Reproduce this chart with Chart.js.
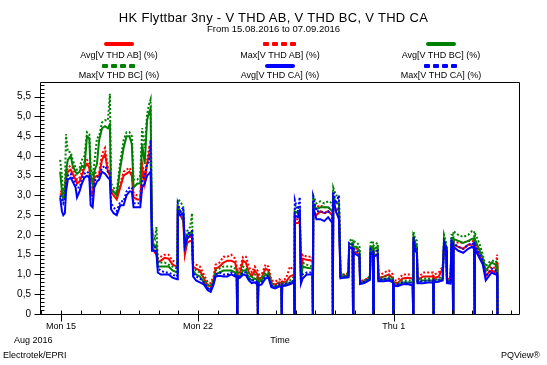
<!DOCTYPE html>
<html>
<head>
<meta charset="utf-8">
<script src="https://cdn.jsdelivr.net/npm/chart.js@4/dist/chart.umd.min.js"></script>
<style>
  html, body { margin:0; padding:0; background:#fff; }
  #wrap { position:relative; width:547px; height:365px; overflow:hidden; font-family:"Liberation Sans", Arial, sans-serif; color:#000; }
  #c { position:absolute; left:0; top:0; }
  .t { position:absolute; white-space:nowrap; line-height:1; }
  .ctr { text-align:center; }
  .solid { position:absolute; height:4px; border-radius:2px; }
  .dash { position:absolute; height:4px; }
  .dash span { display:inline-block; width:6px; height:4px; margin-right:3px; vertical-align:top; border-radius:1px; }
</style>
</head>
<body>
<div id="wrap">
  <canvas id="c" width="547" height="365"></canvas>
  <div class="t ctr" style="left:0;width:547px;top:11px;font-size:13px;letter-spacing:0.3px;">HK Flyttbar 3ny - V THD AB, V THD BC, V THD CA</div>
  <div class="t ctr" style="left:0;width:547px;top:24px;font-size:9.5px;">From 15.08.2016 to 07.09.2016</div>
  <div id="legend"></div>
  <div class="t" style="left:14px;top:336px;font-size:9px;">Aug 2016</div>
  <div class="t ctr" style="left:230px;width:100px;top:336px;font-size:9px;">Time</div>
  <div class="t" style="left:3px;top:351px;font-size:9px;">Electrotek/EPRI</div>
  <div class="t" style="right:7px;top:351px;font-size:9px;">PQView®</div>
</div>
<script>
// Time in days since Mon 15.08.2016 00:00
const times = [
  -0.04,0.05,0.12,0.2,0.26, 0.35,0.5,0.6,0.75,0.82,
  0.95,1.07,1.2,1.33,1.45, 1.52,1.62,1.7,1.84,1.95,
  2.1,2.25,2.4,2.5,2.56, 2.69,2.85,3.03,3.2,3.35,
  3.5,3.62,3.71,3.9,4.05, 4.15,4.28,4.4,4.5,4.58,
  4.65,4.7,4.8,4.88,4.95, 5.1,5.3,5.5,5.7,5.93,
  5.97,6.1,6.25,6.33,6.45, 6.6,6.7,6.75,6.9,7.1,
  7.3,7.5,7.65,7.8,7.9, 8.1,8.3,8.5,8.7,8.9,
  8.98,9.0,9.02,9.15,9.3, 9.45,9.6,9.75,9.9,10.04,
  10.06,10.08,10.25,10.45,10.6, 10.75,10.95,11.15,11.26,11.28,
  11.3,11.5,11.7,11.91,11.93, 11.95,12.1,12.2,12.26,12.35,
  12.55,12.85,12.87,12.89,13.05, 13.25,13.45,13.65,13.87,13.89,
  13.91,14.05,14.2,14.28,14.5, 14.69,14.72,14.9,14.92,14.94,
  15.1,15.25,15.28,15.5,15.78, 15.82,15.94,15.96,15.98,16.18,
  16.22,16.5,16.75,16.96,16.98, 17.0,17.2,17.45,17.7,17.97,
  17.99,18.01,18.1,18.18,18.22, 18.5,18.8,19.01,19.03,19.05,
  19.3,19.5,19.57,19.68,19.72, 19.9,19.95,20.01,20.03,20.05,
  20.3,20.55,20.8,21.0,21.11, 21.13,21.15,21.4,21.55,21.7,
  21.85,22.0,22.2,22.28,22.3
];
const avgAB = [
  3.05,3.0,3.05,3.1,3.4, 3.6,3.65,3.55,3.4,3.3,
  3.35,3.5,3.7,3.8,3.7, 3.1,3.0,3.45,3.5,3.5,
  3.9,4.05,3.6,3.5,3.1, 3.0,2.9,3.2,3.5,3.55,
  3.6,3.5,2.95,2.9,2.9, 3.7,3.3,3.8,4.05,4.0,
  2.2,1.65,1.55,1.5,1.3, 1.35,1.42,1.4,1.25,1.2,
  2.5,2.5,2.35,1.5,1.8, 1.85,1.85,1.2,1.15,1.1,
  0.9,0.72,0.7,0.85,1.15, 1.2,1.3,1.35,1.35,1.3,
  1.1,0,1.05,1.05,1.35, 1.3,1.05,0.95,1.1,1.0,
  0,0.9,0.92,1.15,1.1, 0.78,0.75,0.8,0.78,0,
  0.8,0.82,0.95,1.0,0, 2.3,2.3,2.35,0.85,1.4,
  1.37,1.35,0,2.6,2.5, 2.6,2.55,2.6,2.5,0,
  2.9,2.6,2.7,0.95,0.95, 0.98,1.65,1.7,0,1.6,
  1.55,1.5,0.8,0.8,0.9, 1.6,1.55,0,1.5,1.5,
  0.9,0.95,1.0,0.9,0, 0.8,0.78,0.9,0.92,0.9,
  0,1.8,1.65,1.6,0.85, 0.95,0.95,0.95,0,0.9,
  0.95,1.15,1.7,1.6,0.85, 0.82,1.7,1.7,0,1.75,
  1.7,1.65,1.75,1.75,1.8, 0,1.75,1.45,1.3,0.95,
  1.05,1.1,1.05,1.3,0
];
const maxAB = [
  3.1,3.1,3.15,3.2,3.5, 3.7,3.75,3.7,3.5,3.4,
  3.45,3.6,3.85,3.9,3.8, 3.3,3.2,3.55,3.6,3.6,
  4.05,4.2,3.7,3.6,3.2, 3.1,3.0,3.3,3.6,3.65,
  3.7,3.6,3.05,3.0,3.0, 3.8,3.5,3.9,4.2,4.15,
  2.3,1.8,1.7,1.65,1.4, 1.45,1.5,1.5,1.35,1.3,
  2.7,2.6,2.5,1.6,1.9, 1.95,1.95,1.3,1.25,1.2,
  1.0,0.8,0.78,0.95,1.25, 1.3,1.45,1.45,1.5,1.4,
  1.2,0,1.15,1.15,1.45, 1.45,1.2,1.05,1.2,1.1,
  0,1.0,1.0,1.25,1.2, 0.85,0.82,0.88,0.85,0,
  0.85,0.9,1.2,1.1,0, 2.4,2.4,2.45,0.9,1.5,
  1.45,1.45,0,2.7,2.7, 2.75,2.7,2.7,2.6,0,
  3.0,2.8,2.8,1.0,1.0, 1.05,1.75,1.75,0,1.7,
  1.65,1.6,0.85,0.85,0.95, 1.7,1.65,0,1.6,1.6,
  0.95,1.05,1.1,1.0,0, 0.85,0.85,1.0,1.0,1.0,
  0,1.9,1.75,1.7,0.9, 1.05,1.05,1.05,0,1.0,
  1.05,1.2,1.8,1.7,0.9, 0.88,1.8,1.8,0,1.85,
  1.8,1.8,1.85,1.85,1.85, 0,1.85,1.55,1.4,1.05,
  1.15,1.2,1.15,1.5,0
];
const avgBC = [
  3.6,3.1,2.9,3.0,3.6, 3.9,4.0,3.75,3.6,3.55,
  3.6,3.75,3.7,4.5,4.45, 3.5,3.3,3.6,3.8,4.4,
  4.7,4.75,4.7,4.8,3.1, 3.1,3.0,3.7,4.2,4.5,
  4.5,4.3,3.2,3.3,3.3, 4.3,3.8,4.9,5.1,5.2,
  1.9,1.8,1.7,1.75,1.2, 1.2,1.2,1.2,1.1,1.05,
  2.7,2.6,2.5,1.6,2.0, 2.05,2.1,1.1,1.0,0.95,
  0.8,0.65,0.62,0.8,1.0, 1.05,1.1,1.1,1.1,1.05,
  1.0,0,0.95,0.95,1.1, 1.1,0.9,0.85,0.9,0.85,
  0,0.8,0.85,1.0,1.0, 0.72,0.68,0.72,0.7,0,
  0.72,0.75,0.78,0.85,0, 2.6,2.55,2.55,0.85,1.2,
  1.17,1.15,0,2.8,2.65, 2.7,2.7,2.7,2.6,0,
  3.0,2.8,2.8,0.95,0.95, 0.97,1.75,1.8,0,1.7,
  1.7,1.6,0.78,0.8,0.9, 1.7,1.7,0,1.65,1.7,
  0.85,0.88,0.9,0.85,0, 0.75,0.72,0.8,0.8,0.8,
  0,1.95,1.8,1.7,0.8, 0.85,0.85,0.85,0,0.8,
  0.82,0.9,1.9,1.7,0.8, 0.8,1.85,1.85,0,1.9,
  1.85,1.8,1.85,1.9,1.92, 0,1.9,1.6,1.4,1.1,
  1.2,1.3,1.25,1.2,0
];
const maxBC = [
  3.9,3.5,3.1,3.2,4.55, 4.1,4.1,3.9,3.7,3.65,
  3.7,3.9,4.0,4.6,4.55, 3.7,3.5,3.8,4.45,4.5,
  4.85,4.9,4.9,5.57,3.3, 3.2,3.1,3.85,4.4,4.6,
  4.6,4.5,3.4,3.4,3.5, 4.7,4.2,5.05,5.3,5.43,
  2.2,2.0,1.9,2.2,1.3, 1.3,1.3,1.25,1.2,1.15,
  2.9,2.85,2.7,1.7,2.1, 2.2,2.55,1.2,1.1,1.05,
  0.9,0.75,0.7,0.9,1.1, 1.15,1.2,1.2,1.2,1.15,
  1.1,0,1.05,1.0,1.2, 1.15,1.0,0.9,1.0,0.95,
  0,0.85,0.9,1.05,1.05, 0.78,0.72,0.78,0.75,0,
  0.78,0.8,0.85,0.95,0, 2.75,2.7,2.65,0.9,1.3,
  1.25,1.2,0,3.0,2.8, 2.85,2.8,2.85,2.8,0,
  3.2,3.0,3.0,1.0,1.0, 1.02,1.85,1.9,0,1.85,
  1.8,1.75,0.82,0.85,0.95, 1.8,1.85,0,1.75,1.8,
  0.9,0.95,0.95,0.9,0, 0.8,0.78,0.85,0.85,0.85,
  0,2.08,1.9,1.85,0.85, 0.9,0.9,0.9,0,0.85,
  0.9,0.95,2.0,1.8,0.85, 0.85,2.0,2.0,0,2.1,
  2.0,1.95,2.0,2.1,2.1, 0,2.05,1.75,1.5,1.2,
  1.3,1.35,1.35,1.3,0
];
const avgCA = [
  2.95,2.6,2.5,2.55,3.1, 3.4,3.45,3.35,3.2,2.95,
  3.1,3.3,3.45,3.5,3.45, 2.75,2.7,3.2,3.35,3.4,
  3.6,3.55,3.45,3.4,2.65, 2.55,2.5,2.75,2.75,3.0,
  3.1,3.1,2.7,2.7,2.7, 3.2,3.3,3.5,3.55,3.6,
  1.6,1.6,1.6,1.55,1.05, 1.0,1.0,1.0,0.92,0.88,
  2.6,2.5,2.55,1.7,1.9, 2.0,2.0,0.95,0.85,0.8,
  0.75,0.6,0.56,0.75,0.95, 0.97,0.95,0.95,1.0,0.95,
  0.95,0,0.9,0.92,1.0, 0.98,0.85,0.78,0.8,0.75,
  0,0.72,0.75,0.9,0.92, 0.68,0.65,0.7,0.68,0,
  0.7,0.72,0.75,0.8,0, 2.5,2.45,2.6,0.77,0.9,
  1.0,1.0,0,2.7,2.4, 2.4,2.35,2.45,2.3,0,
  2.9,2.6,2.4,0.9,0.92, 0.93,1.7,1.65,0,1.55,
  1.5,1.45,0.76,0.78,0.86, 1.55,1.5,0,1.45,1.5,
  0.83,0.83,0.85,0.8,0, 0.72,0.7,0.75,0.76,0.72,
  0,1.85,1.6,1.55,0.78, 0.78,0.8,0.8,0,0.8,
  0.82,0.85,1.8,1.6,0.78, 0.77,1.8,1.75,0,1.7,
  1.6,1.55,1.65,1.7,1.65, 0,1.65,1.4,1.25,0.85,
  0.95,1.05,1.0,1.0,0
];
const maxCA = [
  3.0,2.9,2.8,2.9,3.3, 3.5,3.55,3.45,3.3,3.2,
  3.2,3.4,3.55,3.6,3.55, 3.0,2.9,3.35,3.45,3.5,
  3.7,3.75,3.6,3.6,2.8, 2.7,2.6,2.85,2.85,3.1,
  3.2,3.2,2.8,2.8,2.8, 3.4,3.5,3.8,3.85,4.4,
  1.8,1.7,1.7,1.65,1.15, 1.1,1.05,1.05,1.0,0.95,
  2.8,2.6,2.7,1.8,2.0, 2.1,2.1,1.05,0.95,0.9,
  0.8,0.65,0.62,0.8,1.0, 1.05,1.0,1.0,1.05,1.0,
  1.0,0,0.95,0.97,1.05, 1.05,0.9,0.85,0.85,0.8,
  0,0.78,0.8,0.95,0.97, 0.72,0.7,0.75,0.72,0,
  0.75,0.77,0.8,0.85,0, 2.88,2.6,2.96,0.85,1.0,
  1.05,1.05,0,2.95,2.6, 2.6,2.55,2.6,2.5,0,
  3.1,2.8,3.0,0.95,0.95, 0.97,1.8,1.75,0,1.65,
  1.6,1.55,0.8,0.82,0.9, 1.65,1.6,0,1.55,1.6,
  0.87,0.88,0.9,0.85,0, 0.75,0.75,0.8,0.8,0.78,
  0,1.95,1.7,1.65,0.82, 0.83,0.85,0.85,0,0.85,
  0.87,0.9,1.85,1.7,0.82, 0.8,1.85,1.8,0,1.8,
  1.7,1.65,1.75,1.8,1.75, 0,1.75,1.5,1.35,0.95,
  1.05,1.15,1.1,1.1,0
];
const seriesNames = ["Avg[V THD AB] (%)","Max[V THD AB] (%)","Avg[V THD BC] (%)","Max[V THD BC] (%)","Avg[V THD CA] (%)","Max[V THD CA] (%)"];
const xTickDays = [0, 7, 17];
const xTickLabels = ["Mon 15", "Mon 22", "Thu 1"];
const yTickValues = [0,0.5,1,1.5,2,2.5,3,3.5,4,4.5,5,5.5];
const X_MIN = -1.07, X_MAX = 23.45, Y_MAX = 5.87;

const RED = '#ff0000', GREEN = '#008000', BLUE = '#0000ff';
const seriesData = [avgAB, maxAB, avgBC, maxBC, avgCA, maxCA];
const seriesColor = [RED, RED, GREEN, GREEN, BLUE, BLUE];
const seriesDashed = [false, true, false, true, false, true];
const seriesOrder = [5, 4, 3, 2, 1, 0];

const datasets = seriesData.map((arr, k) => ({
  label: seriesNames[k],
  data: times.map((t, i) => ({ x: t, y: arr[i] })),
  borderColor: seriesColor[k],
  backgroundColor: seriesColor[k],
  borderWidth: 2,
  borderDash: seriesDashed[k] ? [2, 2] : [],
  pointRadius: 0,
  tension: 0,
  fill: false,
  order: seriesOrder[k]
}));

// legend (HTML)
const legend = document.getElementById('legend');
const colCenters = [119, 280, 441];
seriesNames.forEach((name, k) => {
  const col = k % 3, row = Math.floor(k / 3);
  const cx = colCenters[col];
  const sy = row === 0 ? 42 : 64;
  const ly = row === 0 ? 51 : 71;
  let s;
  if (seriesDashed[k]) {
    s = document.createElement('div'); s.className = 'dash';
    s.style.left = (cx - 17) + 'px'; s.style.top = sy + 'px';
    for (let j = 0; j < 4; j++) { const sp = document.createElement('span'); sp.style.background = seriesColor[k]; if (j===3) sp.style.marginRight='0'; s.appendChild(sp); }
  } else {
    s = document.createElement('div'); s.className = 'solid';
    s.style.left = (cx - 15) + 'px'; s.style.top = sy + 'px'; s.style.width = '30px';
    s.style.background = seriesColor[k];
  }
  legend.appendChild(s);
  const l = document.createElement('div'); l.className = 't ctr';
  l.style.left = (cx - 80) + 'px'; l.style.width = '160px'; l.style.top = ly + 'px'; l.style.fontSize = '9px';
  l.textContent = name;
  legend.appendChild(l);
});

const axisPlugin = {
  id: 'axisBox',
  afterDatasetsDraw(chart) {
    const { ctx, chartArea: { left, right, top, bottom }, scales: { x, y } } = chart;
    ctx.save();
    ctx.strokeStyle = '#000'; ctx.lineWidth = 1;
    const L = Math.round(left) + 0.5, R = Math.round(right) - 0.5, T = Math.round(top) + 0.5, B = Math.round(bottom) + 0.5;
    ctx.beginPath();
    ctx.moveTo(L, T); ctx.lineTo(R, T); ctx.lineTo(R, B); ctx.lineTo(L, B); ctx.closePath();
    // y ticks
    for (let k = 0; k <= 58; k++) {
      const py = Math.round(y.getPixelForValue(k / 10)) + 0.5;
      if (k % 5 === 0) { ctx.moveTo(L - 6, py); ctx.lineTo(L + 4, py); }
      else { ctx.moveTo(L, py); ctx.lineTo(L + 4, py); }
    }
    // x ticks
    for (let d = -1; d <= 23; d++) {
      const px = Math.round(x.getPixelForValue(d)) + 0.5;
      if (xTickDays.includes(d)) { ctx.moveTo(px, B - 4); ctx.lineTo(px, B + 7); }
      else { ctx.moveTo(px, B - 4); ctx.lineTo(px, B); }
    }
    ctx.stroke();
    ctx.restore();
  }
};

new Chart(document.getElementById('c'), {
  type: 'line',
  data: { datasets },
  options: {
    responsive: false,
    animation: false,
    devicePixelRatio: 1,
    layout: { padding: { left: 0, right: 27, top: 82, bottom: 31 } },
    plugins: { legend: { display: false }, title: { display: false }, tooltip: { enabled: false } },
    scales: {
      x: {
        type: 'linear', min: X_MIN, max: X_MAX,
        grid: { display: false, drawTicks: false }, border: { display: false },
        afterBuildTicks: s => { s.ticks = xTickDays.map(v => ({ value: v })); },
        afterFit: s => { s.height = 20; s.paddingLeft = 0; s.paddingRight = 0; },
        ticks: {
          autoSkip: false, maxRotation: 0, minRotation: 0, padding: 7, color: '#000',
          font: { family: '"Liberation Sans", Arial, sans-serif', size: 9 },
          callback: v => { const i = xTickDays.indexOf(v); return i >= 0 ? xTickLabels[i] : ''; }
        }
      },
      y: {
        type: 'linear', min: 0, max: Y_MAX,
        grid: { display: false, drawTicks: false }, border: { display: false },
        afterBuildTicks: s => { s.ticks = yTickValues.map(v => ({ value: v })); },
        afterFit: s => { s.width = 40; },
        ticks: {
          padding: 9, color: '#000',
          font: { family: '"Liberation Sans", Arial, sans-serif', size: 10 },
          callback: v => v === 0 ? '0' : v.toFixed(1).replace('.', ',')
        }
      }
    }
  },
  plugins: [axisPlugin]
});
</script>
</body>
</html>
